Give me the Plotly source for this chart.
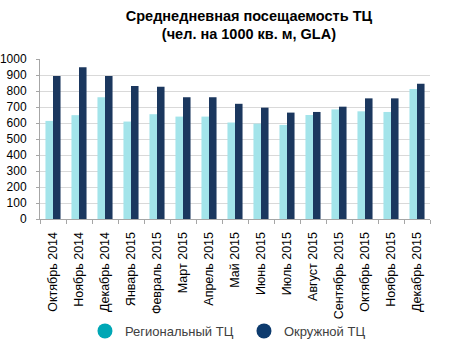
import plotly.graph_objects as go

months = ["Октябрь 2014", "Ноябрь 2014", "Декабрь 2014", "Январь 2015", "Февраль 2015",
          "Март 2015", "Апрель 2015", "Май 2015", "Июнь 2015", "Июль 2015",
          "Август 2015", "Сентябрь 2015", "Октябрь 2015", "Ноябрь 2015", "Декабрь 2015"]
regional = [613, 649, 761, 609, 655, 640, 640, 603, 596, 588, 650, 685, 673, 669, 812]
okruzhnoy = [894, 948, 894, 832, 827, 761, 761, 720, 696, 665, 669, 702, 754, 754, 845]
y_ticks = [0, 100, 200, 300, 400, 500, 600, 700, 800, 900, 1000]

title_text = "<b>Среднедневная посещаемость ТЦ<br>(чел. на 1000 кв. м, GLA)</b>"
name_reg = "Региональный ТЦ"
name_okr = "Окружной ТЦ"

fig = go.Figure()
fig.add_trace(go.Bar(x=months, y=regional, name=name_reg, marker_color="#A3E4EA",
                     marker_line_width=0, showlegend=False))
fig.add_trace(go.Bar(x=months, y=okruzhnoy, name=name_okr, marker_color="#1B375E",
                     marker_line_width=0, showlegend=False))
# legend entries with round markers
fig.add_trace(go.Scatter(x=[None], y=[None], mode="markers", name=name_reg,
                         marker=dict(symbol="circle", size=15, color="#00A7B5")))
fig.add_trace(go.Scatter(x=[None], y=[None], mode="markers", name=name_okr,
                         marker=dict(symbol="circle", size=15, color="#0D3B6E")))

fig.update_layout(
    width=476, height=344,
    margin=dict(l=40, r=46, t=59, b=125),
    paper_bgcolor="white", plot_bgcolor="white",
    font=dict(family="Liberation Sans, Arial, sans-serif", size=12, color="#000000"),
    bargap=0.42, bargroupgap=0,
    title=dict(text=title_text, x=0.523, xanchor="center", y=0.94, yanchor="middle",
               yref="container", font=dict(size=14.5, color="#000000")),
    showlegend=True,
    legend=dict(orientation="h", x=0.523, xanchor="center", xref="paper",
                y=0.038, yanchor="middle", yref="container",
                font=dict(size=13, color="#404040"), itemwidth=30, entrywidth=114,
                bgcolor="rgba(0,0,0,0)"),
)
fig.update_xaxes(type="category", showline=True, linecolor="#A6A6A6", linewidth=1,
                 ticks="outside", tickson="boundaries", ticklen=4, tickcolor="#A6A6A6",
                 tickangle=-90, tickfont=dict(size=12.5, color="#000000"),
                 ticklabelstandoff=7, showgrid=False, fixedrange=True, automargin=False)
fig.update_yaxes(range=[0, 1000], tickvals=y_ticks, showline=True, linecolor="#A6A6A6",
                 linewidth=1, ticks="outside", ticklen=3, tickcolor="#A6A6A6",
                 showgrid=True, gridcolor="#D9D9D9", gridwidth=1,
                 tickfont=dict(size=12, color="#000000"), zeroline=False,
                 ticklabelstandoff=7, automargin=False)

fig.write_html("out.html")
